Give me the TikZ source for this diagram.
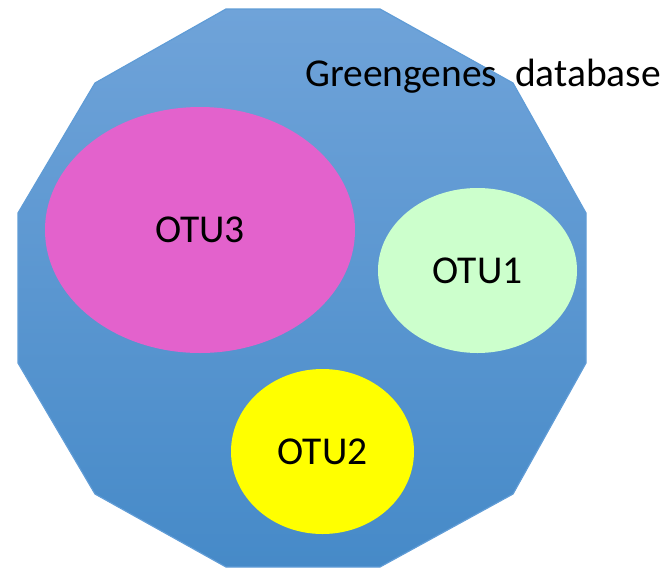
\documentclass[tikz,border=0pt]{standalone}
\usepackage{fontspec}
\setmainfont{Carlito}
\usetikzlibrary{shapes.geometric, positioning}

\definecolor{dbtop}{RGB}{111,163,217}
\definecolor{dbbottom}{RGB}{70,138,200}
\definecolor{dbline}{RGB}{96,156,214}
\definecolor{otumagenta}{RGB}{227,98,204}
\definecolor{otugreen}{RGB}{204,255,204}
\definecolor{otuyellow}{RGB}{255,255,0}

\begin{document}
\begin{tikzpicture}[x=1pt,y=-1pt,otu/.style={ellipse, inner sep=0pt, font=\fontsize{39.5}{47}\selectfont}]
		\useasboundingbox (0,0) rectangle (667,568);

		% database polygon
		\draw[dbline, line width=1.2pt, top color=dbtop, bottom color=dbbottom]
				(226,9) -- (380,9) -- (513,83) -- (586,213) -- (586,363) -- (513,494)
				-- (380,567) -- (226,567) -- (95,494) -- (18,363) -- (18,213) -- (95,83) -- cycle;

		\node[anchor=base west, inner sep=0pt, font=\fontsize{39.5}{47}\selectfont	] (DB)		at (305,86)		{Greengenes\ \ database};

		\node[otu, fill=otumagenta, minimum width=310pt, minimum height=246pt		] (OTU3)	at (200,230)	{OTU3};
		\node[otu, fill=otugreen, minimum width=199pt, minimum height=165pt		] (OTU1)	at (477.5,270.5)	{OTU1};
		\node[otu, fill=otuyellow, minimum width=183pt, minimum height=165pt		] (OTU2)	at (322.5,451.5)	{OTU2};

	\end{tikzpicture}
\end{document}
